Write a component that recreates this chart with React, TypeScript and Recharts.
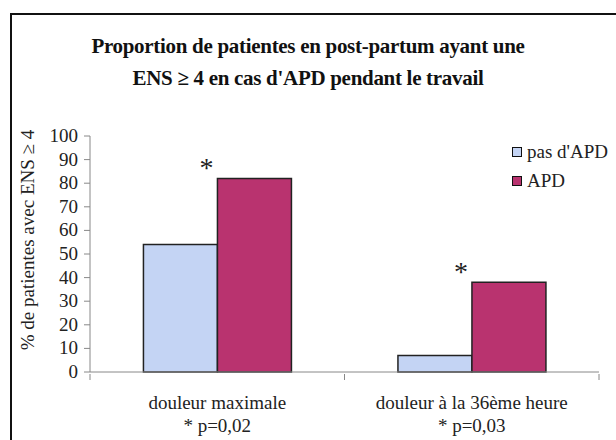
import React from 'react';
import { BarChart, Bar, XAxis, YAxis, LabelList } from 'recharts';

const categories = ['douleur maximale', 'douleur à la 36ème heure'];
const pValues = ['* p=0,02', '* p=0,03'];
const pasApd = [54, 7];
const apd = [82, 38];
const yTicks = [0, 10, 20, 30, 40, 50, 60, 70, 80, 90, 100];

const data = categories.map((c, i) => ({ name: c, p: pValues[i], pasApd: pasApd[i], apd: apd[i] }));

const FONT = "'Times New Roman', Times, 'Liberation Serif', serif";
const BLUE = '#c4d4f4';
const RED = '#b9336f';

const XTick = (props: any) => {
  const { x, y, payload, index } = props;
  const half = payload.offset || 0;
  return (
    <g>
      <line x1={x - half} y1={y} x2={x - half} y2={y + 6} stroke="#888" />
      {index === data.length - 1 && <line x1={x + half} y1={y} x2={x + half} y2={y + 6} stroke="#888" />}
      <text x={x} y={y + 35} textAnchor="middle" fontFamily={FONT} fontSize={19} fill="#222">{payload.value}</text>
      <text x={x} y={y + 58} textAnchor="middle" fontFamily={FONT} fontSize={19} fill="#222">{data[index] ? data[index].p : ''}</text>
    </g>
  );
};

const YTick = (props: any) => {
  const { x, y, payload } = props;
  return (
    <text x={x} y={y} dy={6} textAnchor="end" fontFamily={FONT} fontSize={19} fill="#222">{payload.value}</text>
  );
};

const Star = (props: any) => {
  const { x, y } = props;
  return <text x={x - 11} y={y - 1} textAnchor="middle" fontFamily={FONT} fontSize={28} fill="#222">*</text>;
};

const legendItems = [{ n: "pas d'APD", c: BLUE }, { n: 'APD', c: RED }];

export default function App() {
  return (
    <div style={{ position: 'absolute', left: 0, top: 0, width: 616, height: 440, background: '#fff', overflow: 'hidden', fontFamily: FONT }}>
      <div style={{ position: 'absolute', left: 10, top: 13, width: 700, height: 500, border: '2px solid #111', boxSizing: 'border-box' }} />
      <div style={{ position: 'absolute', left: 0, top: 30, width: 616, textAlign: 'center', fontWeight: 'bold', fontSize: 21, lineHeight: '32px', color: '#111', letterSpacing: -0.3 }}>
        Proportion de patientes en post-partum ayant une<br />ENS ≥ 4 en cas d'APD pendant le travail
      </div>
      <div style={{ position: 'absolute', left: 512, top: 137, fontSize: 19, color: '#222' }}>
        {legendItems.map(d => (
          <div key={d.n} style={{ display: 'flex', alignItems: 'center', height: 29 }}>
            <span style={{ width: 8, height: 8, border: '1.5px solid #111', background: d.c, marginRight: 5, display: 'inline-block' }} />
            <span>{d.n}</span>
          </div>
        ))}
      </div>
      <BarChart
        width={616}
        height={440}
        data={data}
        margin={{ top: 136, right: 17, bottom: 8, left: 10 }}
        barCategoryGap="21%"
        barGap={0}
        style={{ position: 'absolute', left: 0, top: 0 }}
      >
        <XAxis dataKey="name" height={60} tick={<XTick />} tickLine={false} tickSize={0} axisLine={{ stroke: '#888' }} interval={0} />
        <YAxis
          width={80}
          domain={[0, 100]}
          ticks={yTicks}
          interval={0}
          tickSize={6}
          tickMargin={6}
          tickLine={{ stroke: '#888' }}
          axisLine={{ stroke: '#888' }}
          tick={<YTick />}
          label={() => (
            <text
              x={27}
              y={240}
              transform="rotate(-90, 27, 240)"
              textAnchor="middle"
              dominantBaseline="central"
              fontFamily={FONT}
              fontSize={19}
              fill="#222"
            >
              % de patientes avec ENS ≥ 4
            </text>
          )}
        />
        <Bar dataKey="pasApd" name="pas d'APD" fill={BLUE} stroke="#222" strokeWidth={1.5} isAnimationActive={false} />
        <Bar dataKey="apd" name="APD" fill={RED} stroke="#222" strokeWidth={1.5} isAnimationActive={false}>
          <LabelList dataKey="apd" content={<Star />} />
        </Bar>
      </BarChart>
    </div>
  );
}
